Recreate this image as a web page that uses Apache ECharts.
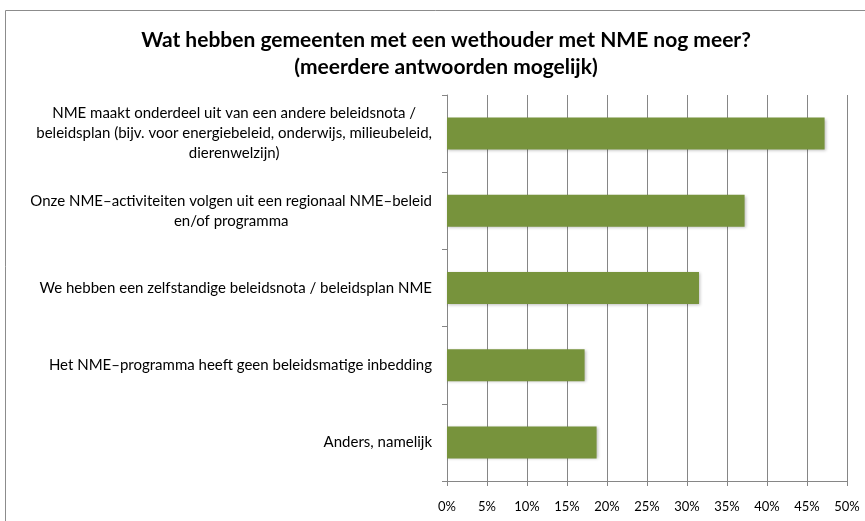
<!DOCTYPE html>
<html lang="nl">
<head>
  <meta charset="UTF-8" />
  <title>Wat hebben gemeenten met een wethouder met NME nog meer?</title>
  <script src="https://cdn.jsdelivr.net/npm/echarts@6/dist/echarts.min.js"></script>
  <style>
    html, body { margin: 0; padding: 0; background: #fff; }
    #main { width: 865px; height: 521px; }
  </style>
</head>
<body>
  <div id="main"></div>
  <script>
    // categories, each entry is the label's lines
    const categories = [
      ['NME maakt onderdeel uit van een andere beleidsnota /', 'beleidsplan (bijv. voor energiebeleid, onderwijs, milieubeleid,', 'dierenwelzijn)'],
      ['Onze NME–activiteiten volgen uit een regionaal NME–beleid', 'en/of programma'],
      ['We hebben een zelfstandige beleidsnota / beleidsplan NME'],
      ['Het NME–programma heeft geen beleidsmatige inbedding'],
      ['Anders, namelijk']
    ];
    const values = [47.2, 37.2, 31.5, 17.2, 18.7];
    const xTicks = [0, 5, 10, 15, 20, 25, 30, 35, 40, 45, 50];

    const chart = echarts.init(document.getElementById('main'));
    const font = 'Lato, "Open Sans", sans-serif';

    chart.setOption({
      backgroundColor: '#ffffff',
      animation: false,
      textStyle: { fontFamily: font },
      graphic: [{
        type: 'rect',
        shape: { x: 5.5, y: 10.5, width: 900, height: 600 },
        style: { fill: 'none', stroke: '#8c8c8c', lineWidth: 1 },
        silent: true
      }],
      title: {
        text: 'Wat hebben gemeenten met een wethouder met NME nog meer?\n(meerdere antwoorden mogelijk)',
        left: 441,
        top: 22,
        textAlign: 'center',
        textStyle: {
          fontFamily: font,
          fontSize: 21,
          fontWeight: 'bold',
          color: '#000',
          lineHeight: 27
        }
      },
      grid: { left: 447, top: 95, right: 18, bottom: 40, containLabel: false },
      xAxis: {
        type: 'value',
        min: xTicks[0],
        max: xTicks[xTicks.length - 1],
        interval: 5,
        axisLine: { show: true, lineStyle: { color: '#868686' } },
        axisTick: { show: true, length: 5, lineStyle: { color: '#868686' } },
        axisLabel: {
          formatter: v => v + '%',
          color: '#000',
          fontSize: 13,
          margin: 19,
          fontFamily: font
        },
        splitLine: { show: true, lineStyle: { color: '#868686', width: 1 } }
      },
      yAxis: {
        type: 'category',
        inverse: true,
        data: categories.map(c => c.join('\n')),
        axisLine: { show: true, lineStyle: { color: '#868686' } },
        axisTick: { show: true, length: 5, lineStyle: { color: '#868686' } },
        axisLabel: {
          margin: 15,
          color: '#000',
          fontSize: 15,
          fontFamily: font,
          align: 'right',
          formatter: v => v.split('\n').map(l => '{c|' + l + '}').join('\n'),
          rich: {
            c: { align: 'center', fontSize: 15, lineHeight: 20, color: '#000', fontFamily: font }
          }
        }
      },
      series: [{
        type: 'bar',
        data: values,
        barWidth: 32,
        itemStyle: {
          color: '#77933c',
          shadowColor: 'rgba(0,0,0,0.25)',
          shadowBlur: 3,
          shadowOffsetX: 1,
          shadowOffsetY: 1
        }
      }]
    });
  </script>
</body>
</html>
